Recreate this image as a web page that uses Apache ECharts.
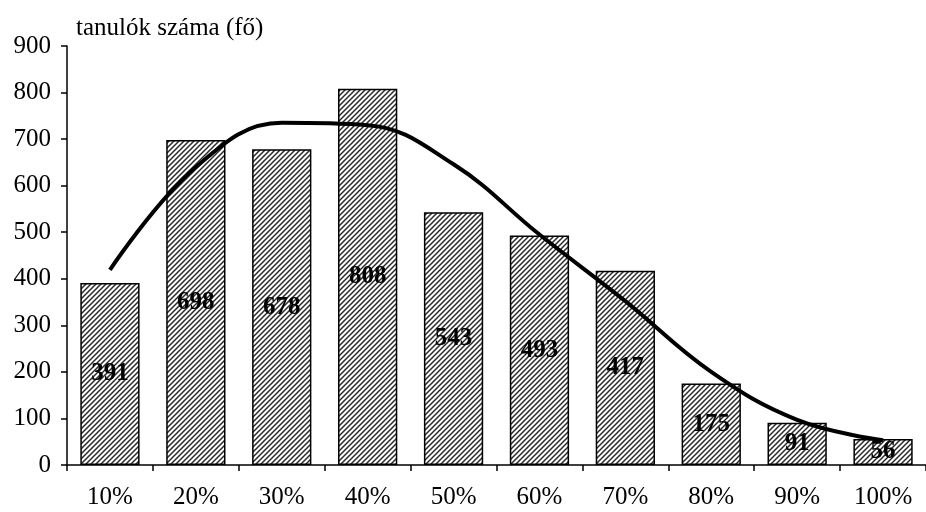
<!DOCTYPE html>
<html>
<head>
<meta charset="utf-8">
<script src="https://cdn.jsdelivr.net/npm/echarts@6/dist/echarts.min.js"></script>
<style>
  html, body { margin: 0; padding: 0; background: #fff; }
  #chart { width: 926px; height: 512px; }
</style>
</head>
<body>
<div id="chart"></div>
<script>
// Score bands and number of students in each band
const categories = ['10%', '20%', '30%', '40%', '50%', '60%', '70%', '80%', '90%', '100%'];
const students = [391, 698, 678, 808, 543, 493, 417, 175, 91, 56];
// Fitted trend curve, one value per band
const trend = [419, 640, 735, 730, 646, 495, 352, 200, 97, 53];
const yTicks = [0, 100, 200, 300, 400, 500, 600, 700, 800, 900];

// Diagonal hatch tile used to fill the bars
function hatchTile() {
  const s = 5;
  const c = document.createElement('canvas');
  c.width = s; c.height = s;
  const g = c.getContext('2d');
  g.fillStyle = '#ffffff';
  g.fillRect(0, 0, s, s);
  g.strokeStyle = '#2a2a2a';
  g.lineWidth = 1.5;
  g.beginPath();
  g.moveTo(0, s); g.lineTo(s, 0);
  g.moveTo(-2, 2); g.lineTo(2, -2);
  g.moveTo(s - 2, s + 2); g.lineTo(s + 2, s - 2);
  g.stroke();
  return c;
}

const serif = '"Liberation Serif", "Times New Roman", serif';
const chart = echarts.init(document.getElementById('chart'), null, { renderer: 'canvas' });

chart.setOption({
  animation: false,
  backgroundColor: '#ffffff',
  title: {
    text: 'tanulók száma (fő)',
    left: 76,
    top: 16,
    padding: 0,
    textStyle: { fontFamily: serif, fontSize: 25, fontWeight: 'normal', color: '#000' }
  },
  grid: { left: 67, top: 46, bottom: 47, width: 872 },
  xAxis: {
    type: 'category',
    data: categories,
    axisLine: { lineStyle: { color: '#000', width: 1.5 } },
    axisTick: { show: true, alignWithLabel: false, length: 6, lineStyle: { color: '#000', width: 1.5 } },
    axisLabel: { fontFamily: serif, fontSize: 25, color: '#000', margin: 20 }
  },
  yAxis: {
    type: 'value',
    min: yTicks[0],
    max: yTicks[yTicks.length - 1],
    interval: yTicks[1] - yTicks[0],
    axisLine: { show: true, lineStyle: { color: '#000', width: 1.5 } },
    axisTick: { show: true, length: 6, lineStyle: { color: '#000', width: 1.5 } },
    axisLabel: { fontFamily: serif, fontSize: 25, color: '#000', margin: 16 },
    splitLine: { show: false }
  },
  series: [
    {
      type: 'bar',
      data: students,
      barCategoryGap: '31%',
      itemStyle: {
        color: { image: hatchTile(), repeat: 'repeat' },
        borderColor: '#000',
        borderWidth: 1.5
      },
      label: {
        show: true,
        position: 'inside',
        fontFamily: serif,
        fontSize: 25,
        fontWeight: 'bold',
        color: '#000'
      },
      z: 2
    },
    {
      type: 'line',
      data: trend,
      smooth: 0.4,
      showSymbol: false,
      lineStyle: { color: '#000', width: 4 },
      z: 5
    }
  ]
});
</script>
</body>
</html>
